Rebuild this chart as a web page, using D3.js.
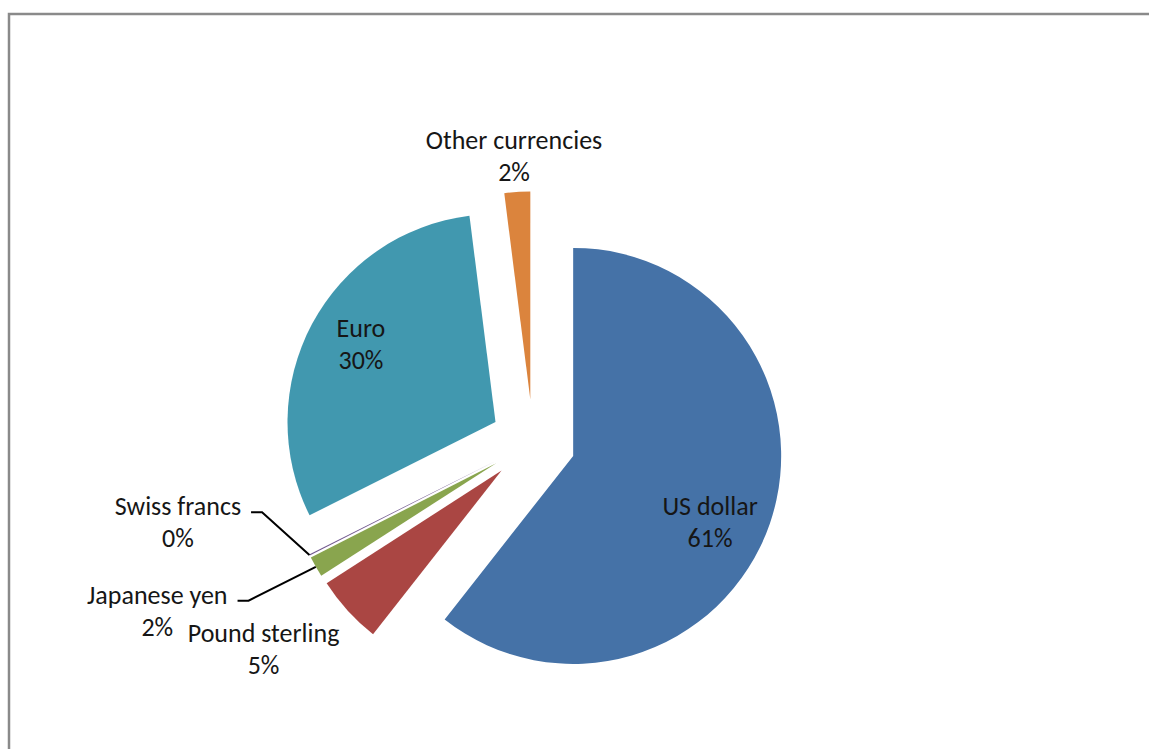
<!DOCTYPE html>
<html>
<head>
<meta charset="utf-8">
<script src="https://cdn.jsdelivr.net/npm/d3@7"></script>
<style>
  body { margin: 0; background: #fff; }
  #chart { width: 1149px; height: 749px; }
  text { font-family: Calibri, Carlito, Lato, sans-serif; fill: #161616; }
</style>
</head>
<body>
<div id="chart"></div>
<script>
// data, clockwise from 12 o'clock
const currencies = ["US dollar", "Pound sterling", "Japanese yen", "Swiss francs", "Euro", "Other currencies"];
const shares = [60.6, 5.3, 1.6, 0.1, 30.4, 2.0];
const colors = ["#4572A7", "#AA4643", "#89A54E", "#71588F", "#4198AF", "#DB843D"];

// label placement: polar around the pie centre (angle shift from slice middle in degrees, distance in radii)
const labelShift = [5.2, 4.7, 5.7, 14.1, 1.6, -0.2];
const labelDist = [0.934, 1.635, 1.98, 1.75, 0.952, 1.378];
const withLeader = [false, false, true, true, false, false];

const width = 1149, height = 749;
const cx = 533, cy = 442, radius = 208, explode = 42.5;

const svg = d3.select("#chart")
    .append("svg")
    .attr("width", width)
    .attr("height", height);

// chart frame (runs off the right and bottom edge)
svg.append("rect")
    .attr("x", 9)
    .attr("y", 14)
    .attr("width", width + 20)
    .attr("height", height + 20)
    .attr("fill", "#fff")
    .attr("stroke", "#8a8a8a")
    .attr("stroke-width", 2.5);

const data = currencies.map((c, i) => ({ name: c, share: shares[i], color: colors[i], i: i }));

const pie = d3.pie().sort(null).value(d => d.share);
const arcs = pie(data);

const arc = d3.arc().innerRadius(0).outerRadius(radius);

const mid = d => (d.startAngle + d.endAngle) / 2;

const g = svg.append("g").attr("transform", `translate(${cx},${cy})`);

g.selectAll("path.slice")
    .data(arcs)
    .enter()
    .append("path")
    .attr("class", "slice")
    .attr("transform", d => `translate(${explode * Math.sin(mid(d))},${-explode * Math.cos(mid(d))})`)
    .attr("d", arc)
    .attr("fill", d => d.data.color);

// LABELS
const lineGap = 32;
const fontSize = 26;

arcs.forEach(function (d) {
    const i = d.data.i;
    const a = mid(d) + labelShift[i] * Math.PI / 180;
    const dist = labelDist[i] * radius;
    const x = dist * Math.sin(a);
    const y = -dist * Math.cos(a);
    const pct = Math.round(d.data.share) + "%";

    const t1 = g.append("text")
        .attr("x", x)
        .attr("y", y - lineGap / 2)
        .attr("text-anchor", "middle")
        .attr("dominant-baseline", "central")
        .style("font-size", fontSize + "px")
        .text(d.data.name);

    g.append("text")
        .attr("x", x)
        .attr("y", y + lineGap / 2)
        .attr("text-anchor", "middle")
        .attr("dominant-baseline", "central")
        .style("font-size", fontSize + "px")
        .text(pct);

    if (withLeader[i]) {
        const w = t1.node().getComputedTextLength();
        const x0 = x + w / 2 + 10;
        const y0 = y - lineGap / 2 + 6;
        const r = radius + explode;
        const end = [r * Math.sin(mid(d)), -r * Math.cos(mid(d))];
        g.append("path")
            .attr("d", d3.line()([[x0, y0], [x0 + 11, y0], end]))
            .attr("fill", "none")
            .attr("stroke", "#000")
            .attr("stroke-width", 2);
    }
});
</script>
</body>
</html>
